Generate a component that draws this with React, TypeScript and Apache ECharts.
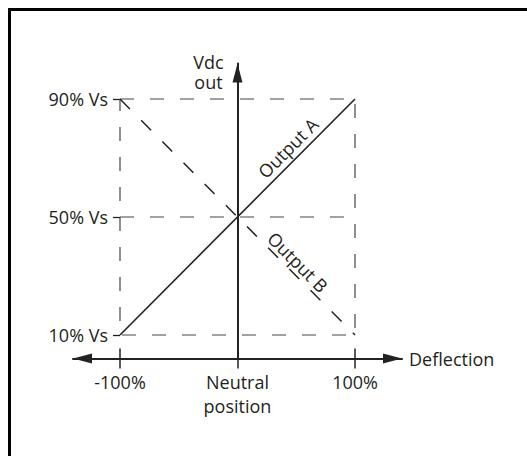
import React, { useEffect, useRef } from 'react';
import * as echarts from 'echarts';

const xTickValues = [-100, 0, 100];
const xTickLabels = ['-100%', 'Neutral\nposition', '100%'];
const yTickValues = [10, 50, 90];
const yTickLabels = ['10% Vs', '50% Vs', '90% Vs'];
const outputA = [[-100, 10], [100, 90]];
const outputB = [[-100, 90], [100, 10]];
const boxOutline = [[-100, 90], [100, 90], [100, 10], [-100, 10], [-100, 90]];
const midLine = [[-100, 50], [100, 50]];
const xName = 'Deflection';
const yName = 'Vdc\nout';
const seriesNames = ['Output A', 'Output B'];

const FONT = 'Open Sans';
const TEXT = '#231f20';
const DASH = [14, 16];

export default function App() {
  const ref = useRef<HTMLDivElement>(null);
  useEffect(() => {
    if (!ref.current) return;
    const chart = echarts.init(ref.current, null, { renderer: 'svg' });
    const textStyle = { fontFamily: FONT, fontSize: 18, color: TEXT };
    const xMin = -140, xMax = 140, yMin = 2, yMax = 102;
    const option: any = {
      animation: false,
      backgroundColor: '#fff',
      textStyle: { fontFamily: FONT },
      grid: { left: 73, right: 125, top: 63.6, bottom: 97.4 },
      graphic: [
        {
          type: 'rect',
          shape: { x: 9.5, y: 9.5, width: 700, height: 700 },
          style: { fill: 'none', stroke: '#000', lineWidth: 3 },
          silent: true,
        },
      ],
      xAxis: [
        {
          type: 'value',
          min: xMin,
          max: xMax,
          position: 'bottom',
          axisLine: {
            show: true,
            onZero: false,
            symbol: ['triangle', 'triangle'],
            symbolSize: [10, 19],
            symbolOffset: [9.5, -9.5],
            lineStyle: { color: '#222', width: 2 },
          },
          axisTick: {
            show: true,
            customValues: xTickValues,
            length: 10,
            lineStyle: { color: '#222', width: 1.5 },
          },
          axisLabel: {
            show: true,
            customValues: xTickValues,
            formatter: (v: number) => xTickLabels[xTickValues.indexOf(v)] ?? '',
            margin: 11,
            lineHeight: 24,
            ...textStyle,
          },
          splitLine: { show: false },
          name: xName,
          nameLocation: 'end',
          nameGap: 7,
          nameTextStyle: { ...textStyle },
        },
        {
          type: 'value',
          min: xMin,
          max: xMax,
          position: 'bottom',
          axisLine: { show: false, onZero: false },
          axisTick: {
            show: true,
            inside: true,
            customValues: xTickValues,
            length: 10,
            lineStyle: { color: '#222', width: 1.5 },
          },
          axisLabel: { show: false },
          splitLine: { show: false },
        },
      ],
      yAxis: [
        {
          type: 'value',
          min: yMin,
          max: yMax,
          axisLine: {
            show: true,
            onZero: true,
            symbol: ['none', 'triangle'],
            symbolSize: [10, 19],
            symbolOffset: [0, -9.5],
            lineStyle: { color: '#222', width: 2 },
          },
          axisTick: { show: false },
          axisLabel: { show: false },
          splitLine: { show: false },
          name: yName,
          nameLocation: 'end',
          nameGap: -8.5,
          nameTextStyle: {
            ...textStyle,
            align: 'center',
            verticalAlign: 'middle',
            lineHeight: 20,
            padding: [0, 58, 0, 0],
          },
        },
        {
          type: 'value',
          min: yMin,
          max: yMax,
          position: 'left',
          offset: -47,
          axisLine: { show: false, onZero: false },
          axisTick: {
            show: true,
            customValues: yTickValues,
            length: 7,
            lineStyle: { color: '#222', width: 1.3 },
          },
          axisLabel: {
            show: true,
            customValues: yTickValues,
            formatter: (v: number) => yTickLabels[yTickValues.indexOf(v)] ?? '',
            margin: 12,
            ...textStyle,
          },
          splitLine: { show: false },
        },
      ],
      series: [
        {
          type: 'line',
          data: boxOutline,
          showSymbol: false,
          symbol: 'none',
          silent: true,
          lineStyle: { color: '#444', width: 1.2, type: DASH },
          z: 1,
        },
        {
          type: 'line',
          data: midLine,
          showSymbol: false,
          symbol: 'none',
          silent: true,
          lineStyle: { color: '#444', width: 1.2, type: DASH },
          z: 1,
        },
        {
          name: seriesNames[0],
          type: 'line',
          data: outputA,
          showSymbol: false,
          symbol: 'none',
          silent: true,
          lineStyle: { color: '#222', width: 1.6 },
          z: 3,
          markLine: {
            silent: true,
            symbol: ['none', 'none'],
            lineStyle: { width: 0, color: 'rgba(0,0,0,0)' },
            label: {
              show: true,
              position: 'insideEndTop',
              formatter: seriesNames[0],
              distance: [44, 4],
              opacity: 1,
              ...textStyle,
            },
            data: [[{ coord: outputA[0] }, { coord: outputA[1] }]],
          },
        },
        {
          name: seriesNames[1],
          type: 'line',
          data: outputB,
          showSymbol: false,
          symbol: 'none',
          silent: true,
          lineStyle: { color: '#222', width: 1.5, type: DASH },
          z: 3,
          markLine: {
            silent: true,
            symbol: ['none', 'none'],
            lineStyle: { width: 0, color: 'rgba(0,0,0,0)' },
            label: {
              show: true,
              position: 'insideEndTop',
              formatter: seriesNames[1],
              distance: [54, 2],
              opacity: 1,
              ...textStyle,
            },
            data: [[{ coord: outputB[0] }, { coord: outputB[1] }]],
          },
        },
      ],
    };
    chart.setOption(option);
    return () => chart.dispose();
  }, []);
  return (
    <div
      ref={ref}
      style={{ position: 'fixed', left: 0, top: 0, width: 527, height: 456, background: '#fff' }}
    />
  );
}
